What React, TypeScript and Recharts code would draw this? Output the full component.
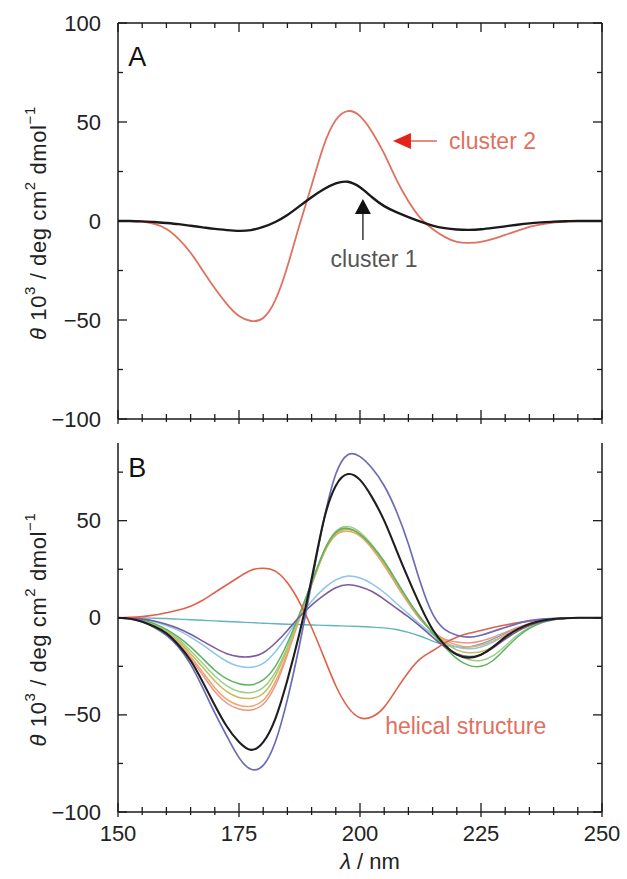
import React from 'react';
import { LineChart, Line, XAxis, YAxis, ReferenceLine, ReferenceDot } from 'recharts';

const LAMBDA = [150, 152.5, 155, 157.5, 160, 162.5, 165, 167.5, 170, 172.5, 175, 177.5, 180, 182.5, 185, 187.5, 190, 192.5, 195, 197.5, 200, 202.5, 205, 207.5, 210, 212.5, 215, 217.5, 220, 222.5, 225, 227.5, 230, 232.5, 235, 237.5, 240, 242.5, 245, 247.5, 250];

// Panel A
const CLUSTER_1 = [0, 0, -0.2, -0.5, -1, -1.6, -2.4, -3.2, -4, -4.6, -5, -4.6, -3, -0.5, 3, 7.5, 12, 16, 19, 19.8, 17, 12, 7.5, 4.5, 2, -0.3, -2.3, -3.6, -4.3, -4.5, -4.2, -3.5, -2.7, -1.9, -1.2, -0.7, -0.3, -0.1, 0, 0, 0];
const CLUSTER_2 = [0, 0, -0.3, -1.5, -4, -9, -16, -25, -34, -42, -48, -50.5, -49, -40, -23, -2, 18, 38, 51, 55.5, 53, 45, 34, 21, 10, 1.5, -4, -8, -10.5, -11, -10.5, -9, -7, -5, -3, -1.7, -0.8, -0.3, 0, 0, 0];

// Panel B
const HELICAL = [0, 0.2, 0.6, 1.4, 2.6, 4, 6, 9, 13, 17, 21, 24.5, 25.5, 24, 18, 8, -5, -20, -35, -46, -51.5, -51, -46, -37, -28, -21, -17, -13, -10, -8, -6.5, -5, -3.7, -2.6, -1.7, -1, -0.5, -0.2, 0, 0, 0];
const BLUE = [0, -0.5, -2, -5, -9, -15, -24, -36, -49, -61, -72, -78, -76, -64, -42, -14, 18, 50, 74, 84, 83, 77, 68, 55, 38, 18, 2, -6, -9, -10, -9, -7, -5, -3, -1.5, -0.7, -0.3, 0, 0, 0, 0];
const BLACK = [0, -0.5, -2, -4.5, -8, -14, -22, -33, -45, -56, -64, -68, -64, -52, -32, -8, 20, 50, 68, 74, 71, 62, 50, 35, 20, 6, -6, -14, -19, -20.5, -19, -15, -10, -6, -3.2, -1.5, -0.6, -0.2, 0, 0, 0];
const GREEN = [0, -0.3, -1.2, -3, -6, -10, -15, -21, -27, -31.5, -34, -34.5, -32, -25, -13, 2, 18, 34, 44, 46, 43, 37, 29, 19, 9, 0, -8, -15, -21, -24.5, -25, -22, -16, -10, -5.5, -2.6, -1, -0.3, 0, 0, 0];
const LIGHT_GREEN = [0, -0.3, -1.3, -3.3, -6.5, -11, -17, -23.5, -30, -35, -38, -38.5, -36, -28, -15, 1, 18, 34, 44.5, 47, 44, 37.5, 29, 19, 9, 0, -7.5, -14, -19, -21.5, -22, -19.5, -14.5, -9, -5, -2.4, -1, -0.3, 0, 0, 0];
const OLIVE = [0, -0.3, -1.4, -3.5, -7, -12, -18.5, -25.5, -32.5, -38, -41, -41.5, -39, -30, -16, 0.5, 17, 33, 43, 45.5, 43, 36.5, 28, 18, 8.5, 0, -7, -12.5, -16.5, -18, -17.5, -15, -11, -7, -4, -2, -0.8, -0.3, 0, 0, 0];
const ORANGE = [0, -0.4, -1.5, -3.8, -7.5, -13, -20, -28, -36, -42, -45, -45.5, -42.5, -33, -18, 0, 17, 33, 42.5, 44.5, 42, 35.5, 27, 17.5, 8, -0.5, -7, -11.5, -14, -15, -14, -12, -9, -6, -3.5, -1.8, -0.7, -0.2, 0, 0, 0];
const SALMON = [0, -0.4, -1.6, -4, -8, -14, -21, -29.5, -38, -44, -47, -47.5, -44.5, -35, -19, -0.5, 17, 34, 44, 46, 43, 36, 27, 17, 7.5, -1, -7, -11, -12.5, -13, -12, -10, -7.5, -5, -3, -1.5, -0.6, -0.2, 0, 0, 0];
const LIGHT_BLUE = [0, -0.2, -0.8, -2, -4, -6.5, -10, -14, -18.5, -22.5, -25, -25.5, -23.5, -17.5, -9, 0.5, 8.5, 15, 19.5, 21.5, 20.5, 17.5, 13, 7.5, 2, -3.5, -8.5, -12.5, -15, -16, -15, -12.5, -9, -6, -3.5, -1.8, -0.7, -0.2, 0, 0, 0];
const PURPLE = [0, -0.2, -0.7, -1.7, -3.3, -5.5, -8.5, -12, -15.5, -18.5, -20, -20, -18, -13, -6.5, 0.5, 6.5, 11.5, 15.5, 17, 16, 13.5, 9.5, 5, 0.5, -4.5, -10, -15, -18.5, -20, -19, -15.5, -11, -7, -4, -2, -0.8, -0.3, 0, 0, 0];
const FLAT = [0, 0, -0.1, -0.2, -0.4, -0.7, -1, -1.3, -1.6, -1.9, -2.2, -2.5, -2.8, -3.1, -3.3, -3.5, -3.7, -3.9, -4.1, -4.3, -4.5, -4.8, -5.2, -6, -7.5, -9.5, -12, -14, -15, -15, -13.5, -11, -8, -5.5, -3.3, -1.8, -0.8, -0.3, 0, 0, 0];

const X_TICKS = [150, 155, 160, 165, 170, 175, 180, 185, 190, 195, 200, 205, 210, 215, 220, 225, 230, 235, 240, 245, 250];
const X_TICK_LABELS = [150, 175, 200, 225, 250];
const Y_TICKS_A = [-100, -75, -50, -25, 0, 25, 50, 75, 100];
const Y_TICK_LABELS_A = [-100, -50, 0, 50, 100];
const Y_TICKS_B = [-100, -75, -50, -25, 0, 25, 50, 75];
const Y_TICK_LABELS_B = [-100, -50, 0, 50];

const FONT = '"Liberation Sans", Arial, Helvetica, sans-serif';
const AXIS = '#1a1a1a';
const CURVE = 'natural';

const dataA = LAMBDA.map((x, i) => ({ x, c1: CLUSTER_1[i], c2: CLUSTER_2[i] }));

const SERIES_B = [
  { key: 'flat', values: FLAT, color: '#62b4bc', width: 1.4 },
  { key: 'lblue', values: LIGHT_BLUE, color: '#8cc6e6', width: 1.5 },
  { key: 'salmon', values: SALMON, color: '#ee9484', width: 1.5 },
  { key: 'orange', values: ORANGE, color: '#eea46c', width: 1.5 },
  { key: 'olive', values: OLIVE, color: '#c2bc5a', width: 1.5 },
  { key: 'lgreen', values: LIGHT_GREEN, color: '#9ccf86', width: 1.5 },
  { key: 'green', values: GREEN, color: '#5fb260', width: 1.5 },
  { key: 'purple', values: PURPLE, color: '#7b5c9c', width: 1.6 },
  { key: 'helical', values: HELICAL, color: '#e0604c', width: 1.6 },
  { key: 'blue', values: BLUE, color: '#6c6cb6', width: 1.7 },
  { key: 'black', values: BLACK, color: '#1e1e1e', width: 2.1 },
];

const dataB = LAMBDA.map((x, i) => {
  const row: any = { x };
  SERIES_B.forEach((s) => { row[s.key] = s.values[i]; });
  return row;
});

const fmt = (v: number) => (v < 0 ? '\u2212' + Math.abs(v) : String(v));

function BottomTick(props: any) {
  const { x, y, payload, showLabels } = props;
  const v = payload.value;
  const major = X_TICK_LABELS.includes(v);
  return (
    <g>
      <line x1={x} x2={x} y1={y - (major ? 9 : 5)} y2={y + (major ? 5 : 3)} stroke={AXIS} strokeWidth={1.3} />
      {showLabels && major ? (
        <text x={x} y={y + 21} textAnchor="middle" dominantBaseline="central" fontSize={22} fontFamily={FONT} fill="#222">{v}</text>
      ) : null}
    </g>
  );
}

function TopTick(props: any) {
  const { x, y, payload } = props;
  const major = X_TICK_LABELS.includes(payload.value);
  return <line x1={x} x2={x} y1={y} y2={y + (major ? 9 : 5)} stroke={AXIS} strokeWidth={1.3} />;
}

function LeftTick(props: any) {
  const { x, y, payload, labels } = props;
  const v = payload.value;
  const major = v % 50 === 0;
  return (
    <g>
      <line x1={x} x2={x + (major ? 9 : 5)} y1={y} y2={y} stroke={AXIS} strokeWidth={1.3} />
      {labels.includes(v) ? (
        <text x={x - 17} y={y} textAnchor="end" dominantBaseline="central" fontSize={22} fontFamily={FONT} fill="#222">{fmt(v)}</text>
      ) : null}
    </g>
  );
}

function RightTick(props: any) {
  const { x, y, payload } = props;
  const major = payload.value % 50 === 0;
  return <line x1={x} x2={x - (major ? 9 : 5)} y1={y} y2={y} stroke={AXIS} strokeWidth={1.3} />;
}

function YTitle(props: any) {
  const vb = props.viewBox || { x: 118, y: 0, width: 0, height: 0 };
  const cx = vb.x + (vb.width || 0) - 80;
  const cy = vb.y + vb.height / 2 + 2;
  return (
    <text x={cx} y={cy} transform={`rotate(-90, ${cx}, ${cy})`} textAnchor="middle" dominantBaseline="central" fontSize={22} letterSpacing={0.6} fontFamily={FONT} fill="#222">
      <tspan fontStyle="italic">θ</tspan>
      <tspan> 10</tspan>
      <tspan dy={-9} fontSize={15}>3</tspan>
      <tspan dy={9}> / deg cm</tspan>
      <tspan dy={-9} fontSize={15}>2</tspan>
      <tspan dy={9}> dmol</tspan>
      <tspan dy={-9} fontSize={15}>{'\u2212'}1</tspan>
    </text>
  );
}

function XTitle(props: any) {
  const vb = props.viewBox || { x: 118, y: 812, width: 484, height: 0 };
  const cx = vb.x + vb.width / 2 + 10;
  const cy = vb.y + 49;
  return (
    <text x={cx} y={cy} textAnchor="middle" dominantBaseline="central" fontSize={22} fontFamily={FONT} fill="#222">
      <tspan fontStyle="italic">λ</tspan>
      <tspan> / nm</tspan>
    </text>
  );
}

const textShape = (label: string, opts: any) => (p: any) => (
  <text x={p.cx} y={p.cy} textAnchor={opts.anchor || 'start'} dominantBaseline="central" fontSize={opts.size || 23} fontFamily={FONT} fill={opts.color}>{label}</text>
);

const leftTriangle = (color: string) => (p: any) => (
  <polygon points={`${p.cx},${p.cy} ${p.cx + 18},${p.cy - 8} ${p.cx + 18},${p.cy + 8}`} fill={color} />
);
const upTriangle = (color: string) => (p: any) => (
  <polygon points={`${p.cx},${p.cy} ${p.cx - 8},${p.cy + 15} ${p.cx + 8},${p.cy + 15}`} fill={color} />
);

const axisLine = { stroke: AXIS, strokeWidth: 1.5 };

export default function App() {
  return (
    <div style={{ position: 'absolute', left: 0, top: 0, width: 627, height: 879, background: '#fff', fontFamily: FONT }}>
      <div style={{ position: 'absolute', left: 0, top: 0 }}>
        <LineChart width={627} height={440} data={dataA} margin={{ top: 22, right: 24, bottom: 20, left: 117 }}>
          <XAxis dataKey="x" type="number" domain={[150, 250]} ticks={X_TICKS} interval={0} height={1}
            axisLine={axisLine} tickLine={false} tickSize={0} tickMargin={0}
            tick={<BottomTick showLabels={false} />} allowDataOverflow />
          <XAxis xAxisId="top" orientation="top" dataKey="x" type="number" domain={[150, 250]} ticks={X_TICKS} interval={0} height={1}
            axisLine={axisLine} tickLine={false} tickSize={0} tickMargin={0}
            tick={<TopTick />} allowDataOverflow />
          <YAxis type="number" domain={[-100, 100]} ticks={Y_TICKS_A} interval={0} width={1}
            axisLine={axisLine} tickLine={false} tickSize={0} tickMargin={0}
            tick={<LeftTick labels={Y_TICK_LABELS_A} />} allowDataOverflow label={<YTitle />} />
          <YAxis yAxisId="right" orientation="right" type="number" domain={[-100, 100]} ticks={Y_TICKS_A} interval={0} width={1}
            axisLine={axisLine} tickLine={false} tickSize={0} tickMargin={0}
            tick={<RightTick />} allowDataOverflow />
          <Line type={CURVE} dataKey="c2" stroke="#e2705f" strokeWidth={1.8} dot={false} isAnimationActive={false} />
          <Line type={CURVE} dataKey="c1" stroke="#1a1a1a" strokeWidth={2.4} dot={false} isAnimationActive={false} />
          <ReferenceDot x={152.1} y={83} r={0} shape={textShape('A', { size: 27, color: '#111' })} />
          <ReferenceLine segment={[{ x: 210.3, y: 40.4 }, { x: 215.9, y: 40.4 }]} stroke="#e2705f" strokeWidth={1.6} />
          <ReferenceDot x={206.8} y={40.4} r={0} shape={leftTriangle('#e4241a')} />
          <ReferenceDot x={218.4} y={40.4} r={0} shape={textShape('cluster 2', { color: '#e2705f' })} />
          <ReferenceLine segment={[{ x: 200.6, y: 4 }, { x: 200.6, y: -9.6 }]} stroke="#444" strokeWidth={1.6} />
          <ReferenceDot x={200.6} y={11.1} r={0} shape={upTriangle('#111')} />
          <ReferenceDot x={202.9} y={-19.2} r={0} shape={textShape('cluster 1', { color: '#555', anchor: 'middle' })} />
        </LineChart>
      </div>
      <div style={{ position: 'absolute', left: 0, top: 430 }}>
        <LineChart width={627} height={449} data={dataB} margin={{ top: 13, right: 24, bottom: 66, left: 117 }}>
          <XAxis dataKey="x" type="number" domain={[150, 250]} ticks={X_TICKS} interval={0} height={1}
            axisLine={axisLine} tickLine={false} tickSize={0} tickMargin={0}
            tick={<BottomTick showLabels={true} />} allowDataOverflow label={<XTitle />} />
          <YAxis type="number" domain={[-100, 90]} ticks={Y_TICKS_B} interval={0} width={1}
            axisLine={axisLine} tickLine={false} tickSize={0} tickMargin={0}
            tick={<LeftTick labels={Y_TICK_LABELS_B} />} allowDataOverflow label={<YTitle />} />
          <YAxis yAxisId="right" orientation="right" type="number" domain={[-100, 90]} ticks={Y_TICKS_B} interval={0} width={1}
            axisLine={axisLine} tickLine={false} tickSize={0} tickMargin={0}
            tick={<RightTick />} allowDataOverflow />
          {SERIES_B.map((s) => (
            <Line key={s.key} type={CURVE} dataKey={s.key} stroke={s.color} strokeWidth={s.width} dot={false} isAnimationActive={false} />
          ))}
          <ReferenceDot x={152.1} y={77} r={0} shape={textShape('B', { size: 27, color: '#111' })} />
          <ReferenceDot x={205.2} y={-55.9} r={0} shape={textShape('helical structure', { color: '#e2705f' })} />
        </LineChart>
      </div>
    </div>
  );
}
